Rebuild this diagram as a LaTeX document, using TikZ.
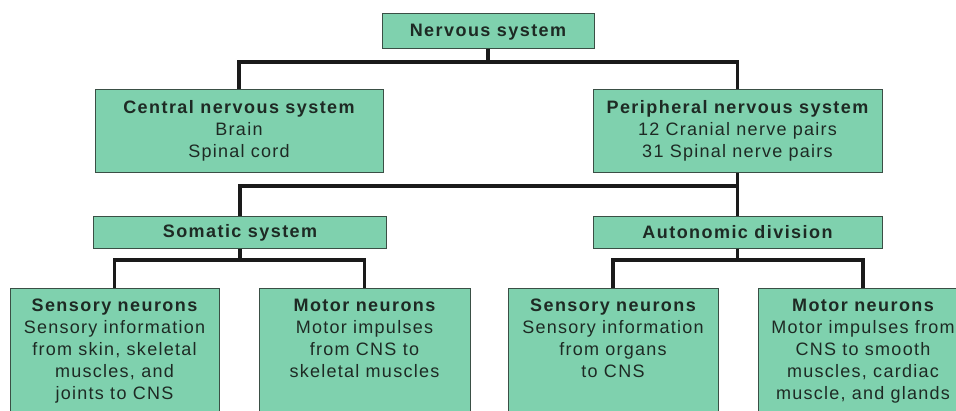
\documentclass[tikz,border=0pt]{standalone}
\usepackage{fontspec}
\setmainfont{Liberation Sans}[LetterSpace=7,BoldFeatures={LetterSpace=8}]
\definecolor{boxfill}{HTML}{7FD1AE}
\definecolor{boxline}{HTML}{3A4F45}
\definecolor{txtcol}{HTML}{1E2A24}
\definecolor{linecol}{HTML}{1A1A1A}
\begin{document}
\begin{tikzpicture}[x=1pt,y=-1pt,
  box/.style={draw=boxline,line width=1pt,fill=boxfill,rectangle,inner sep=0pt},
  txt/.style={text=txtcol,align=center,font=\fontsize{18}{22}\selectfont,inner sep=0pt},
  conn/.style={draw=linecol,line width=3.2pt}]
\useasboundingbox (0,0) rectangle (956,410);
\clip (0,0) rectangle (956,410);
% level 0
\node[box,minimum width=212,minimum height=35] (ns) at (488,30.5) {};
\node[txt] (nst) at ([yshift=-1.5]ns.center) {\bfseries Nervous system};
% level 1
\node[box,minimum width=288,minimum height=83] (cns) at (239,130.5) {};
\node[txt] (cnst) at (cns.center) {{\bfseries Central nervous system}\\Brain\\Spinal cord};
\node[box,minimum width=289,minimum height=83] (pns) at (737.5,130.5) {};
\node[txt] (pnst) at (pns.center) {{\bfseries Peripheral nervous system}\\12 Cranial nerve pairs\\31 Spinal nerve pairs};
% level 2
\node[box,minimum width=293,minimum height=32] (som) at (240,232) {};
\node[txt] (somt) at ([yshift=-0.5]som.center) {\bfseries Somatic system};
\node[box,minimum width=289,minimum height=32] (aut) at (737.5,232) {};
\node[txt] (autt) at ([yshift=-0.5]aut.center) {\bfseries Autonomic division};
% level 3
\node[box,minimum width=209,minimum height=140,anchor=north] (s1) at (114.5,288) {};
\node[txt,anchor=north] (s1t) at ([yshift=-11]s1.north) {{\bfseries Sensory neurons}\\Sensory information\\from skin, skeletal\\muscles, and\\joints to CNS};
\node[box,minimum width=211,minimum height=140,anchor=north] (m1) at (364.5,288) {};
\node[txt,anchor=north] (m1t) at ([yshift=-11]m1.north) {{\bfseries Motor neurons}\\Motor impulses\\from CNS to\\skeletal muscles};
\node[box,minimum width=210,minimum height=140,anchor=north] (s2) at (613,288) {};
\node[txt,anchor=north] (s2t) at ([yshift=-11]s2.north) {{\bfseries Sensory neurons}\\Sensory information\\from organs\\to CNS};
\node[box,minimum width=210,minimum height=140,anchor=north] (m2) at (863,288) {};
\node[txt,anchor=north] (m2t) at ([yshift=-11]m2.north) {{\bfseries Motor neurons}\\Motor impulses from\\CNS to smooth\\muscles, cardiac\\muscle, and glands};
% connectors
\coordinate (j1) at (488,62);
\coordinate (j2) at (737.5,186);
\coordinate (j3) at (240,260);
\coordinate (j4) at (737.5,260);
\draw[conn] (ns.south) -- (j1);
\draw[conn] (cns.north) |- (j1) -| (pns.north);
\draw[conn] (pns.south) -- (aut.north);
\draw[conn] (j2) -| (som.north);
\draw[conn] (som.south) -- (j3);
\draw[conn] (s1.north) |- (j3) -| (m1.north);
\draw[conn] (aut.south) -- (j4);
\draw[conn] (s2.north) |- (j4) -| (m2.north);
\end{tikzpicture}
\end{document}
